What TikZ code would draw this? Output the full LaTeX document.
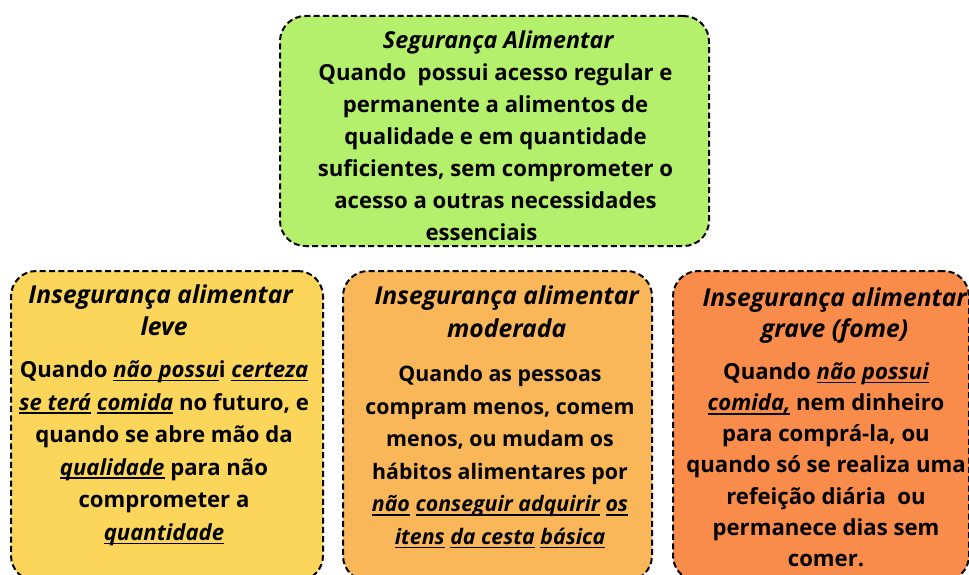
\documentclass[tikz,border=0pt]{standalone}
\usepackage{fontspec}
\setmainfont{Open Sans}
\definecolor{cgreen}{HTML}{B5F06C}
\definecolor{cyellow}{HTML}{FCD65A}
\definecolor{corange}{HTML}{F9B75A}
\definecolor{cred}{HTML}{F98B4B}
\newcommand{\ttl}[1]{{\fontsize{18.5}{24.4}\selectfont\bfseries\itshape #1}}
\newcommand{\ttltop}[1]{{\fontsize{17.5}{24}\selectfont\bfseries\itshape #1}}
\newlength\myulw
\newcommand{\myul}[1]{\settowidth\myulw{\itshape #1}\rlap{\rule[-2.8pt]{\myulw}{1.1pt}}{\itshape #1}}
\tikzset{
  box/.style={draw=black, line width=1.5pt, dash pattern=on 4.5pt off 2.5pt, rounded corners=19pt, inner sep=0pt},
  txt/.style={align=center, font=\fontsize{16.6}{24.4}\selectfont\bfseries, inner sep=0pt}
}
\begin{document}
\begin{tikzpicture}[x=0.75pt,y=-0.75pt]
\useasboundingbox (0,0) rectangle (969,574);
\clip (0,0) rectangle (969,574);
\node[box, fill=cgreen, minimum width=429*0.75pt, minimum height=230*0.75pt] (top) at (494.5,131) {};
\node[box, fill=cyellow, minimum width=312*0.75pt, minimum height=310*0.75pt] (leve) at (167,426) {};
\node[box, fill=corange, minimum width=309*0.75pt, minimum height=310*0.75pt] (mod) at (497.5,426) {};
\node[box, fill=cred, minimum width=296*0.75pt, minimum height=310*0.75pt] (grave) at (821,426) {};

\node[txt, font=\fontsize{16.6}{24}\selectfont\bfseries] (ttop) at (495.5,136) {%
\hspace*{4pt}\ttltop{Segurança Alimentar}\\
Quando\ \ possui acesso regular e\\
permanente a alimentos de\\
qualidade e em quantidade\\
suficientes, sem comprometer o\\
acesso a outras necessidades\hspace*{10pt}\\
essenciais\hspace*{21pt}};

\node[txt] (tleve) at (164,415) {%
\ttl{Insegurança alimentar}\hspace*{5pt}\\
\ttl{leve}\hspace*{5pt}\\[7pt]
Quando \myul{não possu}i \myul{certeza}\\
\myul{se terá} \myul{comida} no futuro, e\\
quando se abre mão da\\
\myul{qualidade} para não\\
comprometer a\\
\myul{quantidade}};

\node[txt, font=\fontsize{16}{24.4}\selectfont\bfseries] (tmod) at (500,417) {%
\hspace*{10pt}\ttl{Insegurança alimentar}\\
\hspace*{10pt}\ttl{moderada}\\[9pt]
Quando as pessoas\\
compram menos, comem\\
menos, ou mudam os\\
hábitos alimentares por\\
\myul{não} \myul{conseguir adquirir} \myul{os}\\
\myul{itens} \myul{da cesta} \myul{básica}};

\node[txt, font=\fontsize{16.6}{23.3}\selectfont\bfseries] (tgrave) at (826,427) {%
\hspace*{13pt}\ttl{Insegurança alimentar}\\
\hspace*{13pt}\ttl{grave (fome)}\\[8.5pt]
Quando \myul{não} \myul{possui}\\
\myul{comida,} nem dinheiro\\
para comprá-la, ou\\
quando só se realiza uma\\
refeição diária\ \ ou\\
permanece dias sem\\
comer.};
\end{tikzpicture}
\end{document}
